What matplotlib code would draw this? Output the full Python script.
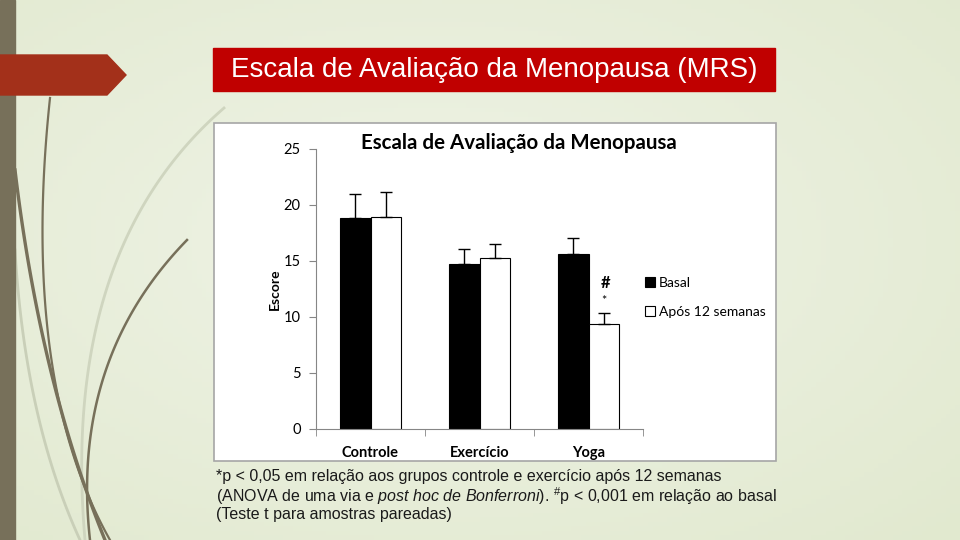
import numpy as np
import matplotlib.pyplot as plt
from matplotlib.patches import Rectangle, Polygon

plt.rcParams['mathtext.fontset'] = 'custom'
plt.rcParams['mathtext.rm'] = 'Liberation Sans'
plt.rcParams['mathtext.it'] = 'Liberation Sans:italic'

# Dados
grupos = ["Controle", "Exercício", "Yoga"]
basal = [18.8, 14.75, 15.6]
basal_dp = [2.2, 1.35, 1.45]
apos = [18.9, 15.25, 9.35]
apos_dp = [2.3, 1.25, 1.05]
series = ["Basal", "Após 12 semanas"]

fig = plt.figure(figsize=(9.6, 5.4), dpi=100)

# fundo do slide (coordenadas em pixels)
bg = fig.add_axes([0, 0, 1, 1])
bg.set_xlim(0, 960)
bg.set_ylim(540, 0)
bg.axis("off")
gx = np.linspace(0, 1, 200)
gy = np.linspace(0, 1, 120)
X, Y = np.meshgrid(gx, gy)
d = np.sqrt((X - 0.45) ** 2 + (Y - 0.45) ** 2)
c0 = np.array([0.94, 0.955, 0.905])
c1 = np.array([0.885, 0.915, 0.815])
img = c0 + (c1 - c0) * np.clip(d / 0.75, 0, 1)[..., None]
bg.imshow(img, extent=(0, 960, 540, 0), aspect="auto", zorder=0)

# curvas decorativas
def bezier(p0, p1, p2, n=100):
    t = np.linspace(0, 1, n)[:, None]
    p0, p1, p2 = map(np.array, (p0, p1, p2))
    return (1 - t) ** 2 * p0 + 2 * (1 - t) * t * p1 + t ** 2 * p2

curvas = [
    ((224, 108), (60, 250), (85, 540), "#cfd5bf", 2.0),
    ((15, 250), (25, 420), (80, 540), "#c9cfb8", 2.0),
    ((50, 98), (20, 380), (110, 540), "#77705a", 1.6),
    ((15, 170), (40, 380), (105, 540), "#77705a", 2.4),
    ((187, 240), (70, 360), (90, 540), "#77705a", 1.8),
]
for p0, p1, p2, cor, lw in curvas:
    b = bezier(p0, p1, p2)
    bg.plot(b[:, 0], b[:, 1], color=cor, lw=lw, zorder=1)

bg.add_patch(Rectangle((0, 0), 15, 540, color="#77705a", zorder=2))
bg.add_patch(Polygon([(0, 55), (107, 55), (126, 75), (107, 95), (0, 95)],
                     closed=True, color="#a3301a", zorder=3))

# faixa do título
bg.add_patch(Rectangle((213, 48), 562, 43, color="#c00000", zorder=3))
bg.text(494, 70, "Escala de Avaliação da Menopausa (MRS)", color="white",
        fontsize=20, family="Liberation Sans", ha="center", va="center", zorder=4)

# moldura branca do gráfico
bg.add_patch(Rectangle((214, 123), 562, 338, facecolor="white",
                       edgecolor="#a6a6a6", lw=1.2, zorder=3))

# nota de rodapé
nota = [
    "*p < 0,05 em relação aos grupos controle e exercício após 12 semanas",
    r"(ANOVA de uma via e $\mathit{post\ hoc\ de\ Bonferroni}$). $^{\#}$p < 0,001 em relação ao basal",
    "(Teste t para amostras pareadas)",
]
for i, linha in enumerate(nota):
    bg.text(216, 477 + i * 19, linha, fontsize=11.5, family="Liberation Sans",
            color="#1a1a1a", va="center", ha="left", zorder=4)

# gráfico de barras
ax = fig.add_axes([316 / 960, (540 - 429) / 540, 327 / 960, 280 / 540])
ax.set_zorder(5)
ax.patch.set_alpha(0)
x = np.arange(len(grupos))
w = 0.28
ax.bar(x - w / 2, basal, w, color="black", edgecolor="black", lw=0.8,
       yerr=[np.zeros(3), basal_dp], capsize=4,
       error_kw=dict(ecolor="black", elinewidth=1, capthick=1), label=series[0])
ax.bar(x + w / 2, apos, w, color="white", edgecolor="black", lw=0.8,
       yerr=[np.zeros(3), apos_dp], capsize=4,
       error_kw=dict(ecolor="black", elinewidth=1, capthick=1), label=series[1])

ax.text(2 + w / 2 + 0.02, 13.0, "#", fontsize=12, fontweight="bold",
        ha="center", va="center", family="Lato")
ax.text(2 + w / 2 + 0.0, 11.4, "*", fontsize=9, ha="center", va="center",
        family="Lato")

ax.set_xlim(-0.5, 2.5)
ax.set_ylim(0, 25)
ax.set_yticks([0, 5, 10, 15, 20, 25])
ax.set_xticks(x)
ax.set_xticklabels(grupos, fontsize=10.5, fontweight="bold", family="Lato")
ax.set_xticks([-0.5, 0.5, 1.5, 2.5], minor=True)
ax.tick_params(axis="x", which="major", length=0, pad=12)
ax.tick_params(axis="x", which="minor", length=5, color="#868686")
ax.tick_params(axis="y", length=5, color="#868686", pad=6)
for t in ax.get_yticklabels():
    t.set_fontsize(10.5)
    t.set_family("Lato")
for s in ["top", "right"]:
    ax.spines[s].set_visible(False)
for s in ["left", "bottom"]:
    ax.spines[s].set_color("#868686")
ax.set_ylabel("Escore", fontsize=10, fontweight="bold", family="Lato", labelpad=2)
ax.set_title("Escala de Avaliação da Menopausa", fontsize=14.8,
             fontweight="bold", family="Lato", x=0.62, y=1.0, pad=0)

leg = ax.legend(loc="center left", bbox_to_anchor=(0.98, 0.47), frameon=False,
                handlelength=0.7, handleheight=0.7, handletextpad=0.3,
                labelspacing=1.25, borderaxespad=0.2,
                prop=dict(family="Lato", size=10))
for h in leg.legend_handles:
    h.set_linewidth(0.8)

fig.savefig("out.png", dpi=100)
